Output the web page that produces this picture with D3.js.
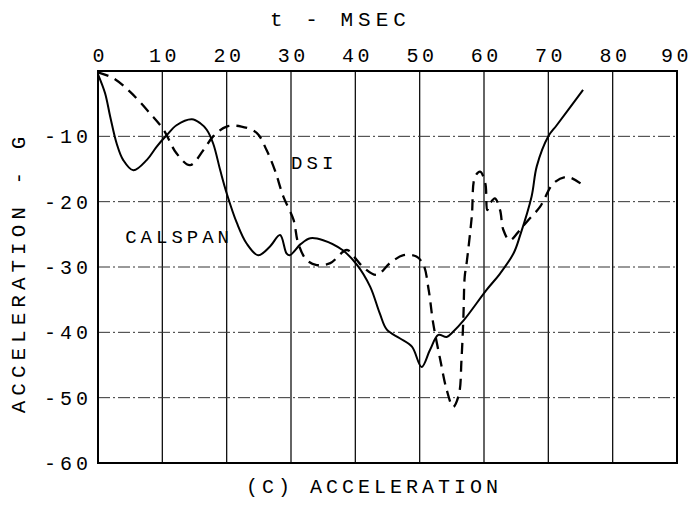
<!DOCTYPE html>
<html>
<head>
<meta charset="utf-8">
<script src="https://cdn.jsdelivr.net/npm/d3@7/dist/d3.min.js"></script>
<style>
  html, body { margin: 0; padding: 0; background: #fff; }
  svg { display: block; }
</style>
</head>
<body>
<script>
// ---- data ----
const xTicks = [0, 10, 20, 30, 40, 50, 60, 70, 80, 90];
const yTicks = [-10, -20, -30, -40, -50, -60];
const xTitle = "t - MSEC";
const yTitle = "ACCELERATION - G";
const caption = "(C) ACCELERATION";

const calspanT = [0, 1.1, 1.9, 2.9, 3.9, 5.5, 7.6, 9.1, 10.7, 12.2, 14.6, 15.9, 16.9, 17.9, 19, 20, 21.6, 23.1, 24.9, 26.7, 28.3, 29.3, 29.8, 31.5, 33, 35, 38, 40.2, 42.3, 43.8, 44.9, 46.9, 48.8, 50.3, 51.6, 52.9, 54.2, 55.2, 56.9, 60.4, 62.5, 64.6, 65.6, 67.4, 68.2, 70, 71.3, 75.4];
const calspanA = [-0.5, -3.4, -7, -11.1, -13.6, -15.2, -13.6, -11.6, -9.8, -8.3, -7.4, -8, -9, -11.1, -15.2, -18.7, -23.3, -26.4, -28.2, -26.9, -25.1, -27.9, -28.2, -26.5, -25.6, -25.9, -27.4, -29.6, -33, -37.1, -39.6, -40.9, -42.2, -45.3, -42.7, -40.4, -40.7, -39.9, -38.1, -33.5, -31, -27.9, -25.2, -19.2, -14.6, -10, -8.3, -2.9];

const dsiT = [0, 2.4, 5, 8.1, 10.2, 12.2, 14.3, 16.4, 17.9, 20, 22.3, 24.7, 26.2, 27.5, 28.8, 30.4, 31.1, 32.4, 34, 36.1, 38.7, 40.2, 41.2, 43.3, 45.4, 47.5, 49.5, 50.6, 51.4, 52.1, 53.2, 54.2, 55.2, 56.1, 56.5, 56.8, 57, 57.3, 58.1, 58.6, 59.4, 60.2, 60.5, 61, 61.7, 62.5, 63, 64, 65.6, 66.9, 68.7, 70.8, 72.9, 75];
const dsiA = [-0.2, -1.1, -3.2, -6.5, -9, -12.6, -14.4, -12.1, -10, -8.5, -8.5, -9.5, -12.1, -15.2, -19.2, -22.8, -26.3, -28.9, -29.7, -29.4, -27.4, -28.9, -30, -31.2, -29.4, -28.2, -28.4, -29.7, -33.5, -38.6, -44.2, -48.8, -51.4, -49.5, -44.2, -37.6, -31.5, -29.4, -22.3, -16.2, -15.4, -17.2, -21.3, -20.2, -19.5, -21.3, -24.3, -25.9, -24.3, -22.8, -20.8, -17.2, -16.2, -17.2];

const seriesLabels = [
  { text: "CALSPAN", t: 12.3, a: -25.6 },
  { text: "DSI", t: 33.3, a: -14.2 }
];

// ---- layout ----
const W = 693, H = 508;
const FONT = "'Liberation Mono', 'DejaVu Sans Mono', monospace";

const x = d3.scaleLinear().domain([0, 90]).range([98, 677]);
const y = d3.scaleLinear().domain([0, -60]).range([71, 463]);

const svg = d3.select("body").append("svg")
  .attr("width", W).attr("height", H)
  .style("font-family", FONT);

// grid: vertical solid
svg.append("g").selectAll("line")
  .data(xTicks.filter(d => d > 0 && d < 90))
  .join("line")
  .attr("x1", d => x(d)).attr("x2", d => x(d))
  .attr("y1", y(0)).attr("y2", y(-60))
  .attr("stroke", "#111").attr("stroke-width", 1.3);

// grid: horizontal dash-dot
svg.append("g").selectAll("line")
  .data(yTicks.filter(d => d > -60))
  .join("line")
  .attr("x1", x(0)).attr("x2", x(90))
  .attr("y1", d => y(d)).attr("y2", d => y(d))
  .attr("stroke", "#333").attr("stroke-width", 1)
  .attr("stroke-dasharray", "12,3,2,3");

// frame
svg.append("rect")
  .attr("x", x(0)).attr("y", y(0))
  .attr("width", x(90) - x(0)).attr("height", y(-60) - y(0))
  .attr("fill", "none").attr("stroke", "#000").attr("stroke-width", 2);

// axes (labels only)
const LS = 3.5;
const xAxis = svg.append("g")
  .attr("transform", `translate(0,${y(0)})`)
  .call(d3.axisTop(x).tickValues(xTicks).tickSize(0).tickPadding(9).tickFormat(d3.format("d")));
xAxis.select(".domain").remove();
xAxis.selectAll("text")
  .attr("font-family", FONT).attr("font-size", 20)
  .attr("letter-spacing", LS).attr("dx", d => d === 90 ? -1 : LS / 2).attr("fill", "#000");

const yAxis = svg.append("g")
  .attr("transform", `translate(${x(0)},0)`)
  .call(d3.axisLeft(y).tickValues(yTicks).tickSize(0).tickPadding(6).tickFormat(d => "-" + Math.abs(d)));
yAxis.select(".domain").remove();
yAxis.selectAll("text")
  .attr("font-family", FONT).attr("font-size", 20)
  .attr("letter-spacing", 4).attr("fill", "#000");

// titles
svg.append("text")
  .attr("x", 338 + 2.5).attr("y", 26)
  .attr("text-anchor", "middle")
  .attr("font-size", 21).attr("letter-spacing", 5)
  .text(xTitle);

svg.append("text")
  .attr("transform", `translate(25,${275}) rotate(-90)`)
  .attr("text-anchor", "middle")
  .attr("dx", 2.5)
  .attr("font-size", 21).attr("letter-spacing", 5)
  .text(yTitle);

svg.append("text")
  .attr("x", 372 + 2).attr("y", 493)
  .attr("text-anchor", "middle")
  .attr("font-size", 20).attr("letter-spacing", 4)
  .text(caption);

// curves
const line = d3.line()
  .x(d => x(d[0])).y(d => y(d[1]))
  .curve(d3.curveCatmullRom.alpha(0.5));

svg.append("path")
  .datum(calspanT.map((t, i) => [t, calspanA[i]]))
  .attr("d", line)
  .attr("fill", "none").attr("stroke", "#000").attr("stroke-width", 2);

svg.append("path")
  .datum(dsiT.map((t, i) => [t, dsiA[i]]))
  .attr("d", line)
  .attr("fill", "none").attr("stroke", "#000").attr("stroke-width", 2.3)
  .attr("stroke-dasharray", "11,7");

// series labels
svg.append("g").selectAll("text")
  .data(seriesLabels)
  .join("text")
  .attr("x", d => x(d.t)).attr("y", d => y(d.a))
  .attr("text-anchor", "middle").attr("dx", 2)
  .attr("dominant-baseline", "middle")
  .attr("font-size", 19).attr("letter-spacing", 4)
  .text(d => d.text);
</script>
</body>
</html>
